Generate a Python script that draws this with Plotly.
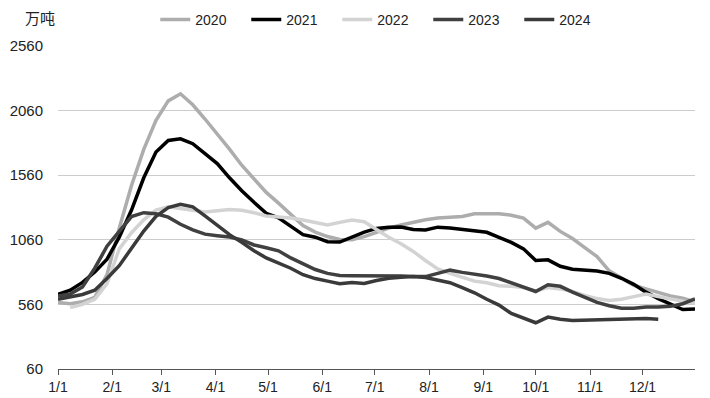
import datetime as dt
import plotly.graph_objects as go

# ---- data (weekly, 万吨) ----
years = ["2020", "2021", "2022", "2023", "2024"]

v2020 = [575, 565, 580, 615, 790, 1150, 1480, 1760, 1985, 2135, 2190, 2105, 1995, 1880, 1762,
         1637, 1534, 1427, 1344, 1260, 1170, 1120, 1085, 1062, 1060, 1085, 1120, 1150, 1175,
         1198, 1215, 1228, 1232, 1240, 1262, 1265, 1262, 1250, 1228, 1150, 1195, 1125, 1070,
         1000, 930, 820, 760, 708, 680, 650, 625, 608, 580]
v2021 = [637, 670, 730, 810, 910, 1080, 1290, 1540, 1740, 1829, 1842, 1804, 1727, 1650, 1540,
         1440, 1350, 1265, 1230, 1165, 1100, 1080, 1045, 1043, 1080, 1120, 1148, 1158, 1159,
         1140, 1136, 1158, 1152, 1140, 1128, 1118, 1078, 1040, 990, 900, 905, 855, 832, 825,
         819, 800, 762, 715, 655, 605, 560, 520, 524]
v2022 = [None, 535, 560, 600, 720, 990, 1115, 1215, 1290, 1315, 1300, 1285, 1275, 1285, 1295,
         1288, 1270, 1245, 1238, 1228, 1213, 1195, 1175, 1195, 1213, 1200, 1140, 1080, 1030,
         970, 900, 835, 800, 770, 740, 728, 705, 700, 690, 665, 690, 680, 660, 630, 605, 590,
         600, 620, 640, 620, 600, 585, 570]
v2023 = [624, 640, 695, 840, 1010, 1130, 1240, 1270, 1262, 1235, 1180, 1137, 1104, 1092, 1082,
         1060, 1020, 998, 975, 920, 875, 830, 800, 783, 782, 782, 785, 785, 780, 776, 775, 800,
         825, 808, 795, 780, 760, 725, 690, 660, 712, 700, 655, 615, 575, 550, 530, 530, 540,
         540, 545, 565, 602]
v2024 = [600, 620, 637, 670, 760, 860, 990, 1128, 1242, 1310, 1334, 1315, 1245, 1170, 1100,
         1040, 975, 920, 880, 840, 790, 760, 740, 720, 730, 722, 745, 762, 770, 775, 768, 745,
         728, 690, 650, 600, 555, 490, 455, 418, 462, 445, 435, 438, 440, 445, 450, 452, 450,
         445]

series = [v2020, v2021, v2022, v2023, v2024]
colors = ["#adadad", "#000000", "#d3d3d3", "#404040", "#3a3a3a"]

month_labels = ["1/1", "2/1", "3/1", "4/1", "5/1", "6/1", "7/1", "8/1", "9/1", "10/1", "11/1", "12/1"]
y_ticks = [60, 560, 1060, 1560, 2060, 2560]

base = dt.date(2021, 1, 1)
weeks = [base + dt.timedelta(days=7 * i) for i in range(53)]
month_dates = [dt.date(2021, m, 1) for m in range(1, 13)]

fig = go.Figure()
for name, vals, col in zip(years, series, colors):
    fig.add_trace(go.Scatter(
        x=weeks[:len(vals)], y=vals, name=name, mode="lines",
        line=dict(color=col, width=3.5), connectgaps=False,
    ))

# the page body has an 8px default margin, so the figure is 8px smaller
font_main = "Liberation Sans, Arial, sans-serif"
fig.update_layout(
    width=702, height=390,
    margin=dict(l=50, r=15, t=38, b=29, autoexpand=False),
    paper_bgcolor="white", plot_bgcolor="white",
    font=dict(family=font_main, size=14, color="#222222"),
    showlegend=True,
    legend=dict(orientation="h", x=0.1527, xanchor="left", y=1.0805, yanchor="middle",
                font=dict(size=14, color="#222222"), entrywidth=46, entrywidthmode="pixels",
                bgcolor="rgba(0,0,0,0)", itemwidth=30, tracegroupgap=0),
    xaxis=dict(
        range=[base, dt.date(2021, 12, 31)], tickvals=month_dates, ticktext=month_labels,
        showgrid=False, showline=True, linecolor="#555555", linewidth=1,
        ticks="outside", ticklen=5, tickcolor="#555555", tickwidth=1,
        tickfont=dict(size=14, color="#222222"), zeroline=False, fixedrange=True,
        automargin=False,
    ),
    yaxis=dict(
        range=[60, 2560], tickvals=y_ticks, ticktext=[str(v) for v in y_ticks],
        showgrid=True, gridcolor="#cccccc", gridwidth=1, zeroline=False, showline=False,
        ticks="", ticklabelstandoff=14, tickfont=dict(size=15, color="#222222"),
        fixedrange=True, automargin=False,
    ),
    annotations=[dict(
        text="万吨", xref="paper", yref="paper", x=-0.028, y=1.0867,
        xanchor="center", yanchor="middle", showarrow=False,
        font=dict(family="Noto Sans CJK SC, sans-serif", size=15, color="#222222"),
    )],
)

fig.write_html("out.html")
